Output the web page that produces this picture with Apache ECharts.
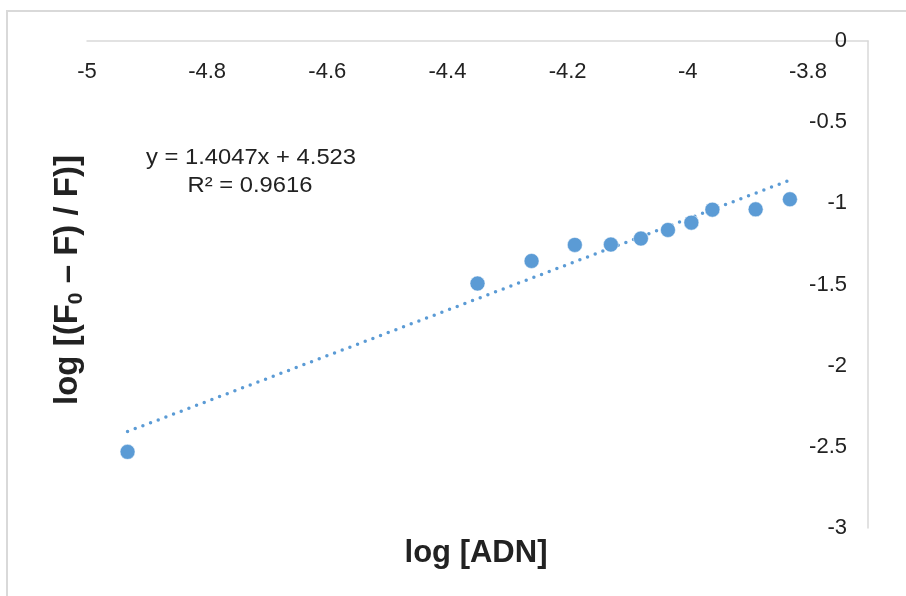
<!DOCTYPE html>
<html>
<head>
<meta charset="utf-8">
<style>
  html, body { margin: 0; padding: 0; background: #fff; }
  #chart { width: 906px; height: 596px; }
</style>
<script src="https://cdn.jsdelivr.net/npm/echarts@6/dist/echarts.min.js"></script>
</head>
<body>
<div id="chart"></div>
<script>
// log [ADN] concentrations and the matching quenching response
const logADN = [-4.9325, -4.350, -4.260, -4.188, -4.128, -4.078, -4.033, -3.994, -3.959, -3.887, -3.830];
const logQuench = [-2.531, -1.494, -1.355, -1.256, -1.254, -1.217, -1.164, -1.119, -1.039, -1.037, -0.975];

// Linear fit reported on the chart
const slope = 1.4047;
const intercept = 4.523;
const r2 = 0.9616;

const xTicks = { min: -5, max: -3.7, interval: 0.2 };
const yTicks = { min: -3, max: 0, interval: 0.5 };

const points = logADN.map((x, i) => [x, logQuench[i]]);
const xFirst = Math.min(...logADN);
const xLast = Math.max(...logADN);
const fitLine = [[xFirst, slope * xFirst + intercept], [xLast, slope * xLast + intercept]];

const chart = echarts.init(document.getElementById('chart'));
const FONT = '"Liberation Sans", Arial, sans-serif';
const labelFont = { fontFamily: FONT, fontSize: 22, color: '#222' };
const fmt = v => (Math.round(v * 10) / 10).toString();

chart.setOption({
  animation: false,
  backgroundColor: '#fff',
  grid: { left: 87, right: 38, top: 41, bottom: 68, containLabel: false },
  xAxis: {
    type: 'value',
    position: 'top',
    min: xTicks.min,
    max: xTicks.max,
    interval: xTicks.interval,
    axisLine: { show: true, onZero: false, lineStyle: { color: '#D9D9D9', width: 1.5 } },
    axisTick: { show: false },
    splitLine: { show: false },
    axisLabel: { inside: true, margin: 20, ...labelFont, showMaxLabel: false, formatter: fmt }
  },
  yAxis: {
    type: 'value',
    position: 'right',
    min: yTicks.min,
    max: yTicks.max,
    interval: yTicks.interval,
    axisLine: { show: true, onZero: false, lineStyle: { color: '#D9D9D9', width: 1.5 } },
    axisTick: { show: false },
    splitLine: { show: false },
    axisLabel: { inside: true, margin: 21, ...labelFont, formatter: fmt }
  },
  graphic: [
    {
      // chart area frame
      type: 'rect',
      shape: { x: 7, y: 11, width: 1000, height: 1000 },
      style: { fill: 'none', stroke: '#D9D9D9', lineWidth: 2 },
      silent: true,
      z: -1
    },
    {
      type: 'text',
      x: 476, y: 553,
      style: {
        text: 'log [ADN]',
        font: 'bold 31px ' + FONT,
        fill: '#222', align: 'center', verticalAlign: 'middle'
      }
    },
    {
      type: 'text',
      x: 68, y: 280,
      rotation: Math.PI / 2,
      style: {
        text: '{t|log [(F}{s|0}{t| – F) / F)]}',
        align: 'center', verticalAlign: 'middle',
        rich: {
          t: { font: 'bold 33px ' + FONT, fill: '#222' },
          s: { font: 'bold 21px ' + FONT, fill: '#222', padding: [16, 0, 0, 0] }
        }
      }
    },
    {
      type: 'text',
      x: 251, y: 158,
      scaleX: 1.08,
      style: {
        text: 'y = ' + slope + 'x + ' + intercept,
        font: '22px ' + FONT,
        fill: '#222', align: 'center', verticalAlign: 'middle'
      }
    },
    {
      type: 'text',
      x: 250, y: 186,
      scaleX: 1.08,
      style: {
        text: 'R² = ' + r2,
        font: '22px ' + FONT,
        fill: '#222', align: 'center', verticalAlign: 'middle'
      }
    }
  ],
  series: [
    {
      type: 'line',
      data: fitLine,
      showSymbol: false,
      symbol: 'none',
      lineStyle: { color: '#5B9BD5', width: 3.5, type: [0, 8.2], cap: 'round' },
      z: 1
    },
    {
      type: 'scatter',
      data: points,
      symbol: 'circle',
      symbolSize: 15,
      itemStyle: { color: '#5B9BD5', opacity: 1, borderColor: '#fff', borderWidth: 0.5 },
      z: 2
    }
  ]
});
</script>
</body>
</html>
